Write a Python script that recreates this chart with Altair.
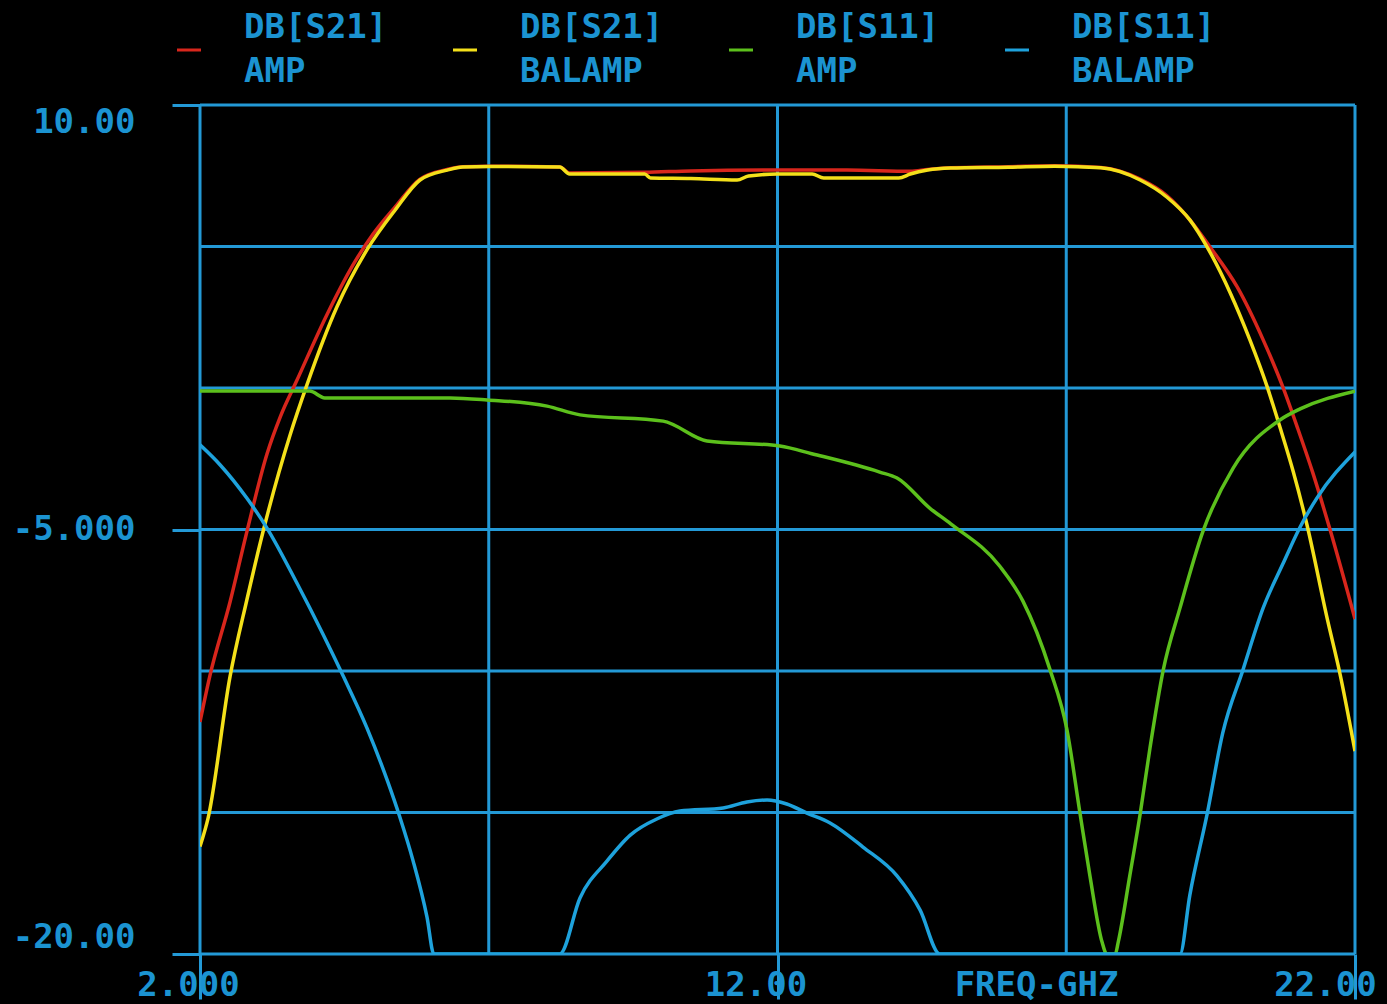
import altair as alt
import pandas as pd

# ---------------- data ----------------
series_names = ["DB[S21] AMP", "DB[S21] BALAMP", "DB[S11] AMP", "DB[S11] BALAMP"]
series_colors = ["#d8261c", "#f4e01a", "#5cc01c", "#1ea2dc"]

s21_amp_x = [2.0, 2.17, 2.52, 2.81, 3.16, 3.39, 3.68, 4.2, 4.65, 5.0, 5.38, 5.81, 6.28, 6.55, 7.0,
             8.23, 8.4, 9.7, 10.5, 12.0, 13.2, 14.3, 14.6, 15.0, 16.0, 16.8, 17.6, 18.28, 18.74,
             19.14, 19.49, 19.96, 20.41, 20.75, 21.0, 21.27, 21.57, 22.0]
s21_amp_y = [-11.8, -10.18, -7.56, -5.09, -2.33, -1.02, 0.28, 2.6, 4.35, 5.45, 6.4, 7.38, 7.72, 7.82, 7.84,
             7.81, 7.6, 7.62, 7.67, 7.70, 7.70, 7.66, 7.72, 7.78, 7.82, 7.85, 7.79, 7.38, 6.8,
             5.94, 4.98, 3.57, 1.70, 0.04, -1.38, -3.0, -5.02, -8.16]

s21_bal_x = [2.0, 2.14, 2.52, 2.81, 3.09, 3.56, 3.85, 4.37, 4.89, 5.38, 5.81, 6.28, 6.55, 7.0, 8.23,
             8.4, 9.7, 9.8, 10.5, 11.3, 11.5, 12.0, 12.6, 12.8, 14.1, 14.3, 14.6, 15.0, 16.0, 16.8,
             17.6, 18.28, 18.74, 19.14, 19.44, 19.84, 20.18, 20.48, 20.7, 20.93, 21.17, 21.52,
             21.74, 22.0]
s21_bal_y = [-16.2, -15.2, -10.2, -7.5, -5.09, -1.66, 0.1, 2.86, 4.88, 6.29, 7.35, 7.70, 7.81, 7.83, 7.81,
             7.56, 7.56, 7.42, 7.40, 7.35, 7.49, 7.56, 7.56, 7.42, 7.42, 7.56, 7.70, 7.77, 7.80, 7.84,
             7.78, 7.35, 6.75, 5.94, 4.98, 3.36, 1.70, 0.04, -1.38, -2.95, -4.85, -8.16,
             -10.1, -12.83]

s11_amp_x = [2.0, 3.9, 4.16, 6.33, 6.97, 8.01, 8.58, 10.02, 10.78, 12.04, 12.61, 13.77, 14.07, 14.64,
             15.0, 15.85, 16.25, 16.72, 17.01, 17.24, 17.41, 17.62, 17.7, 17.85, 17.9, 18.1, 18.28,
             18.45, 18.68, 18.97, 19.37, 19.89, 20.7, 21.05, 22.0]
s11_amp_y = [-0.11, -0.11, -0.35, -0.35, -0.42, -0.64, -0.95, -1.17, -1.87, -2.05, -2.33, -2.97, -3.18, -4.25,
             -4.8, -6.3, -7.53, -9.96, -12.05, -15.05, -17.24, -19.58, -20.0, -20.0, -19.58, -17.24, -15.05,
             -12.72, -9.96, -7.77, -5.05, -2.83, -1.13, -0.74, -0.11]

s11_bal_x = [2.0, 2.35, 2.81, 3.16, 3.68, 4.13, 4.48, 4.89, 5.24, 5.46, 5.69, 5.93, 6.05, 8.23, 8.58,
             9.05, 9.45, 9.91, 10.31, 11.06, 11.47, 11.82, 12.16, 12.51, 12.91, 13.48, 14.07, 14.47,
             14.81, 18.97, 19.14, 19.44, 19.71, 20.06, 20.41, 20.75, 21.05, 21.34, 22.0]
s11_bal_y = [-2.01, -2.72, -3.89, -4.95, -6.9, -8.7, -10.18, -12.01, -13.85, -15.16, -16.71, -18.69, -20.0, -20.0, -18.02,
             -16.71, -15.8, -15.23, -14.95, -14.84, -14.63, -14.56, -14.7, -15.02, -15.37, -16.22, -17.24, -18.45,
             -20.0, -20.0, -17.92, -15.05, -12.19, -9.96, -7.77, -6.22, -4.91, -3.89, -2.26]

x_grid = [2, 7, 12, 17, 22]
y_grid = [10, 5, 0, -5, -10, -15, -20]
x_tick_values = [2, 12, 22]
x_tick_labels = ["2.000", "12.00", "22.00"]
y_tick_values = [10, -5, -20]
y_tick_labels = ["10.00", "-5.000", "-20.00"]
x_title = "FREQ-GHZ"

# ---------------- build tables ----------------
rows = []
for name, xs, ys in zip(series_names,
                        [s21_amp_x, s21_bal_x, s11_amp_x, s11_bal_x],
                        [s21_amp_y, s21_bal_y, s11_amp_y, s11_bal_y]):
    for i, (xv, yv) in enumerate(zip(xs, ys)):
        rows.append({"series": name, "freq": xv, "db": yv, "i": i})
df = pd.DataFrame(rows)
gx = pd.DataFrame({"freq": x_grid})
gy = pd.DataFrame({"db": y_grid})


def label_expr(vals, labels):
    expr = "''"
    for v, l in reversed(list(zip(vals, labels))):
        expr = f"datum.value == {v} ? '{l}' : ({expr})"
    return expr


GRID = "#2399d6"
TXT = "#1b93d1"
FONT = "DejaVu Sans Mono"
FS = 34
FW = "bold"

xscale = alt.Scale(domain=[2, 22], nice=False, zero=False)
yscale = alt.Scale(domain=[-20, 10], nice=False, zero=False)

x_label_offset = {"condition": [{"test": "datum.value == 2", "value": -12},
                                {"test": "datum.value == 22", "value": -30}],
                  "value": -22}

x_axis = alt.Axis(values=x_tick_values, labelExpr=label_expr(x_tick_values, x_tick_labels),
                  tickSize=45, tickWidth=3, tickColor=GRID, domain=False, grid=False,
                  labelFont=FONT, labelFontSize=FS, labelFontWeight=FW, labelColor=TXT,
                  labelPadding=-31, labelOffset=x_label_offset, labelFlush=False, labelAngle=0,
                  labelOverlap=False,
                  title=x_title, titleFont=FONT, titleFontSize=FS, titleFontWeight=FW,
                  titleColor=TXT, titleX=836, titleY=14, titleAlign="center",
                  titleBaseline="top")
y_axis = alt.Axis(values=y_tick_values, labelExpr=label_expr(y_tick_values, y_tick_labels),
                  tickSize=28, tickWidth=3, tickColor=GRID, domain=False, grid=False,
                  labelFont=FONT, labelFontSize=FS, labelFontWeight=FW, labelColor=TXT,
                  labelPadding=37, labelFlush=True, labelOverlap=False, title=None)

vgrid = alt.Chart(gx).mark_rule(color=GRID, strokeWidth=3).encode(
    x=alt.X("freq:Q", scale=xscale, axis=x_axis))
hgrid = alt.Chart(gy).mark_rule(color=GRID, strokeWidth=3).encode(
    y=alt.Y("db:Q", scale=yscale, axis=y_axis))

lines = alt.Chart(df).mark_line(strokeWidth=3.5, clip=True, interpolate="monotone").encode(
    x=alt.X("freq:Q", scale=xscale, axis=x_axis),
    y=alt.Y("db:Q", scale=yscale, axis=y_axis),
    order="i:Q",
    color=alt.Color("series:N",
                    scale=alt.Scale(domain=series_names, range=series_colors),
                    legend=alt.Legend(orient="none", legendX=-28, legendY=-72,
                                      direction="horizontal", columns=4,
                                      symbolType="stroke", symbolSize=576,
                                      symbolStrokeWidth=3,
                                      labelExpr="split(datum.label, ' ')",
                                      labelBaseline="line-bottom",
                                      labelFont=FONT, labelFontSize=FS,
                                      labelFontWeight=FW, labelColor=TXT,
                                      labelOffset=38, columnPadding=59,
                                      labelLimit=400, padding=0, title=None)),
)

chart = alt.layer(vgrid, hgrid, lines).properties(
    width=1155, height=849, background="black",
    autosize=alt.AutoSizeParams(type="none"),
    padding={"left": 200, "top": 105, "right": 32, "bottom": 50},
).configure(
    style={"guide-label": {"lineHeight": 44}}
).configure_view(strokeWidth=0)

chart.save("out.html", embed_options={"renderer": "svg", "actions": False})
